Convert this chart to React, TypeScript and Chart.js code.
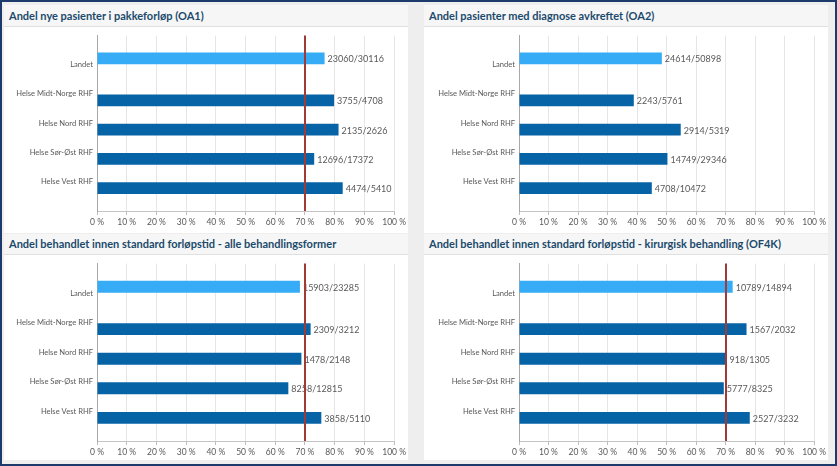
import React, { useEffect, useRef } from 'react';
import { Chart, registerables } from 'chart.js';

Chart.register(...registerables);

// ---------- data ----------
const regionLabels = ['Landet', 'Helse Midt-Norge RHF', 'Helse Nord RHF', 'Helse Sør-Øst RHF', 'Helse Vest RHF'];

const oa1Title = 'Andel nye pasienter i pakkeforløp (OA1)';
const oa1Values = [76.6, 79.8, 81.3, 73.1, 82.7];
const oa1Counts = ['23060/30116', '3755/4708', '2135/2626', '12696/17372', '4474/5410'];

const oa2Title = 'Andel pasienter med diagnose avkreftet (OA2)';
const oa2Values = [48.4, 38.9, 54.8, 50.3, 45.0];
const oa2Counts = ['24614/50898', '2243/5761', '2914/5319', '14749/29346', '4708/10472'];

const of4Title = 'Andel behandlet innen standard forløpstid - alle behandlingsformer';
const of4Values = [68.3, 71.9, 68.8, 64.4, 75.5];
const of4Counts = ['15903/23285', '2309/3212', '1478/2148', '8258/12815', '3858/5110'];

const of4kTitle = 'Andel behandlet innen standard forløpstid - kirurgisk behandling (OF4K)';
const of4kValues = [72.4, 77.1, 70.3, 69.4, 78.2];
const of4kCounts = ['10789/14894', '1567/2032', '918/1305', '5777/8325', '2527/3232'];

const targetLine = 70;
const xMin = 0;
const xMax = 100;
const xStep = 10;

// ---------- styles ----------
const FONT = 'Lato, "Liberation Sans", sans-serif';
const LANDET_COLOR = '#35acf5';
const RHF_COLOR = '#0663a6';
const TARGET_COLOR = '#a03a36';
const TEXT_COLOR = '#595959';

const annotatePlugin = {
  id: 'annotate',
  afterDatasetsDraw(chart: any, _args: any, opts: any) {
    const { ctx, chartArea, scales } = chart;
    ctx.save();
    ctx.font = `9px ${FONT}`;
    ctx.fillStyle = TEXT_COLOR;
    ctx.textBaseline = 'middle';
    ctx.textAlign = 'left';
    chart.data.datasets.forEach((ds: any, di: number) => {
      const meta = chart.getDatasetMeta(di);
      meta.data.forEach((el: any, i: number) => {
        const lbl = ds.data[i] && ds.data[i].label;
        if (lbl) ctx.fillText(lbl, el.x + 3, el.y + 1);
      });
    });
    if (opts && opts.target != null) {
      const x = Math.round(scales.x.getPixelForValue(opts.target));
      ctx.strokeStyle = TARGET_COLOR;
      ctx.lineWidth = 2;
      ctx.beginPath();
      ctx.moveTo(x, chartArea.top);
      ctx.lineTo(x, chartArea.bottom);
      ctx.stroke();
    }
    ctx.restore();
  },
};

type PanelProps = {
  title: string;
  values: number[];
  counts: string[];
  target: number | null;
  left: number;
  top: number;
  width: number;
  height: number;
  headerH: number;
  yAxisW: number;
  padRight: number;
  padTop: number;
  xAxisH: number;
};

function Panel(p: PanelProps) {
  const ref = useRef<HTMLCanvasElement | null>(null);
  useEffect(() => {
    if (!ref.current) return;
    const landetData = [{ x: p.values[0], y: 1, label: p.counts[0] }];
    const rhfData = p.values.slice(1).map((v, i) => ({ x: v, y: i + 2, label: p.counts[i + 1] }));
    const chart = new Chart(ref.current, {
      type: 'bar',
      data: {
        datasets: [
          { label: 'Landet', data: landetData as any, backgroundColor: LANDET_COLOR, categoryPercentage: 0.87, barPercentage: 0.93 },
          { label: 'RHF', data: rhfData as any, backgroundColor: RHF_COLOR, categoryPercentage: 0.87, barPercentage: 0.93 },
        ],
      },
      options: {
        indexAxis: 'y',
        animation: false,
        responsive: true,
        maintainAspectRatio: false,
        layout: { padding: { left: 0, right: p.padRight, top: p.padTop, bottom: 0 } },
        plugins: {
          legend: { display: false },
          tooltip: { enabled: false },
          annotate: { target: p.target },
        } as any,
        scales: {
          x: {
            type: 'linear',
            min: xMin,
            max: xMax,
            ticks: {
              stepSize: xStep,
              callback: (v: any) => `${v} %`,
              font: { family: FONT, size: 8.5 },
              color: TEXT_COLOR,
              padding: 2,
              maxRotation: 0,
            },
            grid: { color: '#e6e6e6', tickColor: '#bdbdbd', tickLength: 4, drawTicks: true },
            border: { color: '#c4c4c4' },
            afterFit: (s: any) => { s.height = p.xAxisH; },
          },
          y: {
            type: 'linear',
            min: 0,
            max: regionLabels.length + 1,
            reverse: true,
            offset: false,
            ticks: {
              stepSize: 1,
              autoSkip: false,
              callback: (v: any) => regionLabels[Number(v) - 1] ?? '',
              font: { family: FONT, size: 7.6 },
              color: TEXT_COLOR,
              padding: 4,
            },
            grid: { display: false, offset: false, drawTicks: false },
            border: { display: true, color: '#a8a8a8' },
            afterFit: (s: any) => { s.width = p.yAxisW; },
          },
        },
      },
      plugins: [annotatePlugin],
    });
    return () => chart.destroy();
  }, []);

  return (
    <div
      style={{
        position: 'absolute',
        left: p.left,
        top: p.top,
        width: p.width,
        height: p.height,
        background: '#ffffff',
        boxSizing: 'border-box',
      }}
    >
      <div
        style={{
          height: p.headerH,
          boxSizing: 'border-box',
          background: '#f6f6f6',
          borderBottom: '1px solid #e0e0e0',
          color: '#1b4a6c',
          fontFamily: FONT,
          fontWeight: 700,
          fontSize: 11,
          lineHeight: `${p.headerH - 1}px`,
          paddingLeft: 5,
          whiteSpace: 'nowrap',
          overflow: 'hidden',
        }}
      >
        {p.title}
      </div>
      <div style={{ position: 'relative', width: p.width, height: p.height - p.headerH }}>
        <canvas ref={ref} />
      </div>
    </div>
  );
}

export default function App() {
  // frame border is 2px; child coordinates are inside the border
  const o = 2;
  return (
    <div
      style={{
        position: 'fixed',
        left: 0,
        top: 0,
        width: 837,
        height: 466,
        boxSizing: 'border-box',
        border: '2px solid #1d3a6c',
        background: '#eeeeee',
        overflow: 'hidden',
      }}
    >
      <Panel title={oa1Title} values={oa1Values} counts={oa1Counts} target={targetLine}
        left={4 - o} top={5 - o} width={404} height={228} headerH={22}
        yAxisW={93} padRight={12} padTop={5} xAxisH={22} />
      <Panel title={oa2Title} values={oa2Values} counts={oa2Counts} target={null}
        left={424 - o} top={5 - o} width={404} height={228} headerH={22}
        yAxisW={95} padRight={11} padTop={5} xAxisH={22} />
      <Panel title={of4Title} values={of4Values} counts={of4Counts} target={targetLine}
        left={4 - o} top={234 - o} width={404} height={226} headerH={21}
        yAxisW={93} padRight={12} padTop={4} xAxisH={19} />
      <Panel title={of4kTitle} values={of4kValues} counts={of4kCounts} target={targetLine}
        left={424 - o} top={234 - o} width={404} height={226} headerH={21}
        yAxisW={95} padRight={11} padTop={4} xAxisH={19} />
    </div>
  );
}
